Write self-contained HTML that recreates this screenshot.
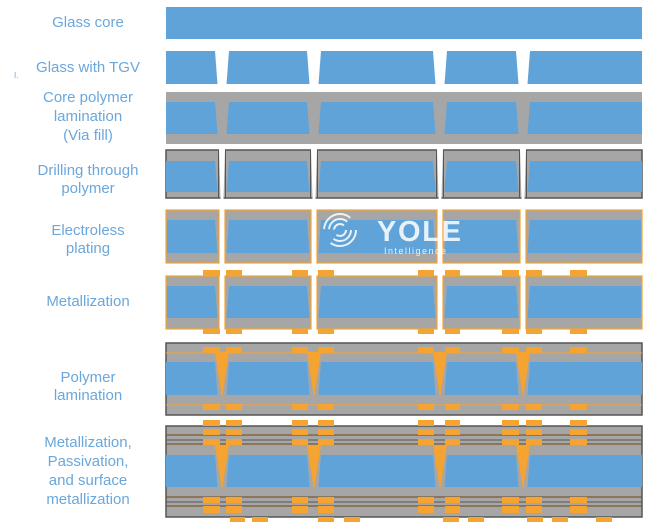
<!DOCTYPE html>
<html><head><meta charset="utf-8"><style>
html,body{margin:0;padding:0;background:#fff;width:670px;height:530px;overflow:hidden}
svg{display:block}
text{font-family:"Liberation Sans",sans-serif}
</style></head><body>
<svg id="s" width="670" height="530" viewBox="0 0 670 530" xmlns="http://www.w3.org/2000/svg">
<g fill="#6aa7dc" font-size="15" text-anchor="middle">
<text x="88" y="27">Glass core</text>
<text x="88" y="72">Glass with TGV</text>
<text x="14" y="78" font-size="8" text-anchor="start">I.</text>
<text x="88" y="102">Core polymer</text>
<text x="88" y="121">lamination</text>
<text x="88" y="140">(Via fill)</text>
<text x="88" y="175">Drilling through</text>
<text x="88" y="193">polymer</text>
<text x="88" y="235">Electroless</text>
<text x="88" y="253">plating</text>
<text x="88" y="306">Metallization</text>
<text x="88" y="382">Polymer</text>
<text x="88" y="400">lamination</text>
<text x="88" y="447">Metallization,</text>
<text x="88" y="466">Passivation,</text>
<text x="88" y="485">and surface</text>
<text x="88" y="504">metallization</text>
</g>
</svg>
<script>
var s=document.getElementById('s'),NS='http://www.w3.org/2000/svg';
var B='#5fa3d8',G='#a6a6a6',O='#f5a331',D='#555';
function el(t,a){var e=document.createElementNS(NS,t);for(var k in a)e.setAttribute(k,a[k]);s.appendChild(e);return e;}
function R(x,y,w,h,f,st,sw){return el('rect',{x:x,y:y,width:w,height:h,fill:f,stroke:st||'none','stroke-width':sw||0});}
var V=[222,314,440,523],X0=166,X1=642;
function blue(y1,y2){
  var e=[X0].concat(V).concat([X1]);
  for(var i=0;i<e.length-1;i++){
    var a=e[i],b=e[i+1];
    var at=i==0?a:a+7,ab=i==0?a:a+4.5,bt=i==e.length-2?b:b-7,bb=i==e.length-2?b:b-4.5;
    el('polygon',{points:at+','+y1+' '+bt+','+y1+' '+bb+','+y2+' '+ab+','+y2,fill:B});
  }
}
function pads(y,h,list){list.forEach(function(p){R(p[0],y,p[1]-p[0],h,O);});}
var P=[[203,220],[226,242],[292,308],[318,334],[418,434],[445,460],[502,519],[526,542],[570,587]];
var PB=[[230,245],[252,268],[318,334],[344,360],[443,459],[468,484],[527,543],[552,568],[596,612]];
// Row1
R(X0,7,X1-X0,32,B);
// Row2
blue(51,84);
// Row3
R(X0,92,X1-X0,52,G);blue(102,134);
// Row4
R(X0,150,X1-X0,48,G,D,1.5);blue(161,192);
V.forEach(function(c){el('polygon',{points:(c-3)+',149 '+(c+3)+',149 '+(c+1.5)+',199 '+(c-1.5)+',199',fill:'#fff'});
 el('line',{x1:c-3.5,y1:150,x2:c-3.5,y2:198,stroke:D,'stroke-width':1});el('line',{x1:c+3.5,y1:150,x2:c+3.5,y2:198,stroke:D,'stroke-width':1});});
// Row5 & 6 segmented
function segs(y1,y2,b1,b2){
  var e=[X0].concat(V).concat([X1]);
  for(var i=0;i<e.length-1;i++){
    var a=i==0?X0:e[i]+3,b=i==e.length-2?X1:e[i+1]-3;
    R(a,y1,b-a,y2-y1,G,O,1.2);
    var at=i==0?a+1:e[i]+7,ab=i==0?a+1:e[i]+4.5,bt=i==e.length-2?b-1:e[i+1]-7,bb=i==e.length-2?b-1:e[i+1]-4.5;
    el('polygon',{points:at+','+b1+' '+bt+','+b1+' '+bb+','+b2+' '+ab+','+b2,fill:B});
  }
}
segs(210,263,220,253);
segs(276,329,286,318);
pads(270,6,P);pads(329,5,P);
// Row7
R(X0,343,X1-X0,72,G,D,1.5);
blue(362,395);
V.forEach(function(c){el('polygon',{points:(c-7)+',352 '+(c+7)+',352 '+c+',398',fill:O});});
el('line',{x1:X0,y1:353,x2:X1,y2:353,stroke:O,'stroke-width':1});
el('line',{x1:X0,y1:405,x2:X1,y2:405,stroke:O,'stroke-width':1});
pads(347,6,P);pads(404,6,P);
// Row8
R(X0,426,X1-X0,91,G,D,1.5);
blue(455,487);
V.forEach(function(c){el('polygon',{points:(c-7)+',445 '+(c+7)+',445 '+c+',490',fill:O});});
[435,444,497,506].forEach(function(y){el('line',{x1:X0,y1:y,x2:X1,y2:y,stroke:'#7a5a30','stroke-width':1.2});});
el('line',{x1:X0,y1:440,x2:X1,y2:440,stroke:D,'stroke-width':1});
el('line',{x1:X0,y1:502,x2:X1,y2:502,stroke:D,'stroke-width':1});
pads(420,6,P);pads(429,6,P);pads(439,6,P);pads(497,6,P);pads(506,7,P);pads(517,5,PB);
// watermark
var g=document.createElementNS(NS,'g');g.setAttribute('opacity','0.85');s.appendChild(g);
[[6,2],[11,2],[16,2]].forEach(function(r,i){var c=document.createElementNS(NS,'circle');
 c.setAttribute('cx',340);c.setAttribute('cy',230);c.setAttribute('r',r[0]);c.setAttribute('fill','none');
 c.setAttribute('stroke','#fff');c.setAttribute('stroke-width',r[1]);c.setAttribute('stroke-dasharray',(r[0]*2.2)+' '+(r[0]*1.0));g.appendChild(c);});
var t=document.createElementNS(NS,'text');t.setAttribute('x',377);t.setAttribute('y',241);t.setAttribute('fill','#fff');
t.setAttribute('font-size','29');t.setAttribute('font-weight','bold');t.setAttribute('textLength','84');t.textContent='YOLE';g.appendChild(t);
var t2=document.createElementNS(NS,'text');t2.setAttribute('x',384);t2.setAttribute('y',254);t2.setAttribute('fill','#fff');
t2.setAttribute('font-size','9');t2.setAttribute('textLength','62');t2.textContent='Intelligence';g.appendChild(t2);
</script>
</body></html>
